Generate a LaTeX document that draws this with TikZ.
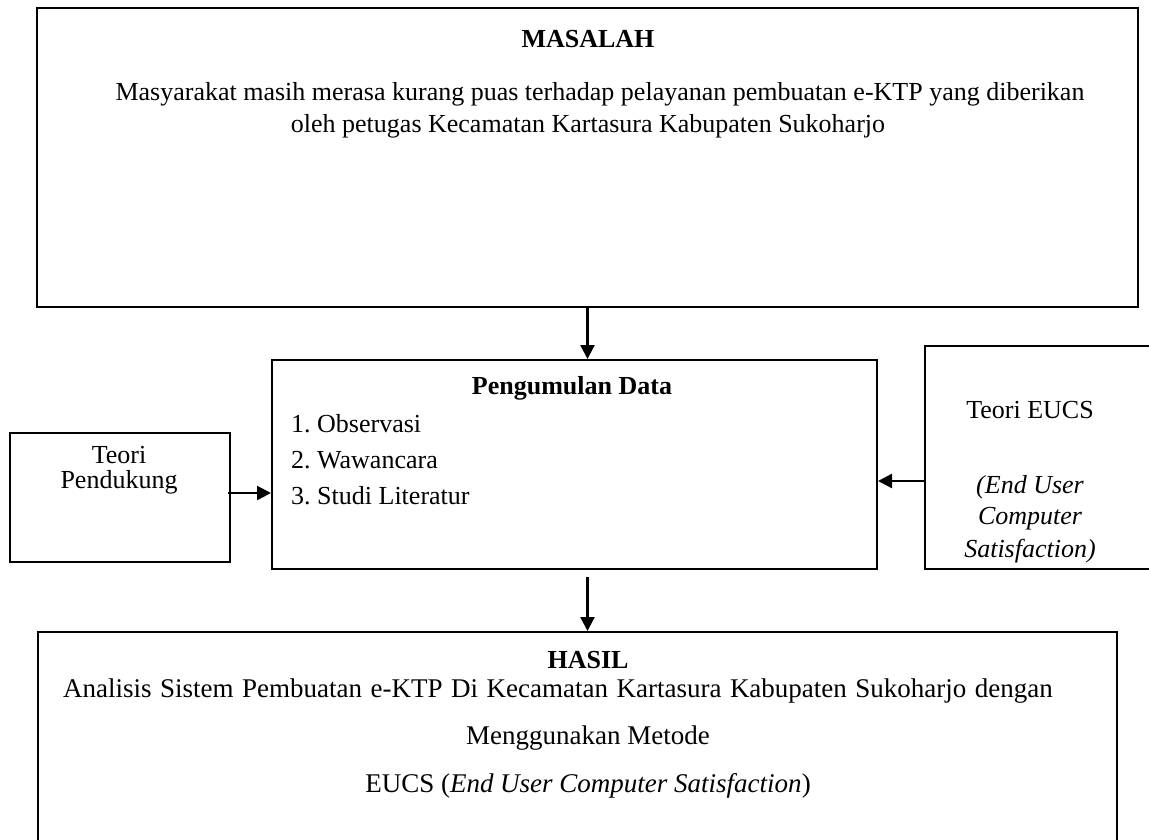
\documentclass[tikz,border=0pt]{standalone}
\usepackage{fontspec}
\usepackage{graphicx}
\setmainfont{Liberation Serif}
\usetikzlibrary{arrows.meta}
\frenchspacing
\begin{document}
\begin{tikzpicture}[x=1pt,y=-1pt,
  box/.style={draw, line width=2pt, inner sep=0pt},
  conn/.style={line width=2.4pt, -{Triangle[length=14pt,width=14pt]}},
  txt/.style={font=\fontsize{26}{30}\selectfont, inner sep=0pt},
  txtb/.style={font=\fontsize{27}{30}\selectfont, inner sep=0pt},
  head/.style={font=\fontsize{26}{30}\selectfont\bfseries, inner sep=0pt},
  sub/.style={font=\fontsize{26}{30}\selectfont\bfseries, inner sep=0pt}]
\useasboundingbox (0,0) rectangle (1149,839);
\clip (0,0) rectangle (1149,839);
% boxes
\node[box, minimum width=1101pt, minimum height=299pt] (masalah) at (587.5,157.5) {};
\node[box, minimum width=605pt, minimum height=209pt] (data) at (574.5,464.5) {};
\node[box, minimum width=220pt, minimum height=129pt] (pend) at (120,497.5) {};
\node[box, minimum width=260pt, minimum height=223pt] (eucs) at (1055,457.5) {};
\node[box, minimum width=1079pt, minimum height=230pt] (hasil) at (577.5,747) {};
% texts
\node[head] (t1) at (588,39) {MASALAH};
\node[txt] (t2) at (600,94) {Masyarakat masih merasa kurang puas terhadap pelayanan pembuatan e-KTP yang diberikan};
\node[txt] (t3) at (588,126) {oleh petugas Kecamatan Kartasura Kabupaten Sukoharjo};
\node[sub] (t4) at (572,388) {Pengumulan Data};
\node[txt, anchor=west] (t5) at (291,424) {1. Observasi};
\node[txt, anchor=west] (t6) at (291,460) {2. Wawancara};
\node[txt, anchor=west] (t7) at (291,496) {3. Studi Literatur};
\node[txt] (t8) at (119,455) {Teori};
\node[txt] (t9) at (119,482) {Pendukung};
\node[txt] (t10) at (1030,410) {Teori EUCS};
\node[txt] (t11) at (1030,487) {\itshape (End User};
\node[txt] (t12) at (1030,519) {\itshape Computer};
\node[txt] (t13) at (1030,551) {\itshape Satisfaction)};
\node[head] (t14) at (588,660) {HASIL};
\node[txtb] (t15) at (558,691) {\spaceskip=8.5pt Analisis Sistem Pembuatan e-KTP Di Kecamatan Kartasura Kabupaten Sukoharjo dengan};
\node[txtb] (t16) at (588,738) {Menggunakan Metode};
\node[txtb] (t17) at (588,786) {EUCS (\textit{End User Computer Satisfaction})};
% connectors
\draw[conn] (masalah.south) -- (masalah.south |- data.north);
\coordinate (dsrc) at ([yshift=-7pt]masalah.south |- data.south);
\draw[conn] (dsrc) -- (dsrc |- hasil.north);
\coordinate (psrc) at ([yshift=4.5pt]pend.east);
\draw[conn] ([xshift=-3pt]psrc) -- (psrc -| data.west);
\coordinate (esrc) at ([yshift=-23.5pt]eucs.west);
\draw[conn] (esrc) -- (esrc -| data.east);
\end{tikzpicture}
\end{document}
